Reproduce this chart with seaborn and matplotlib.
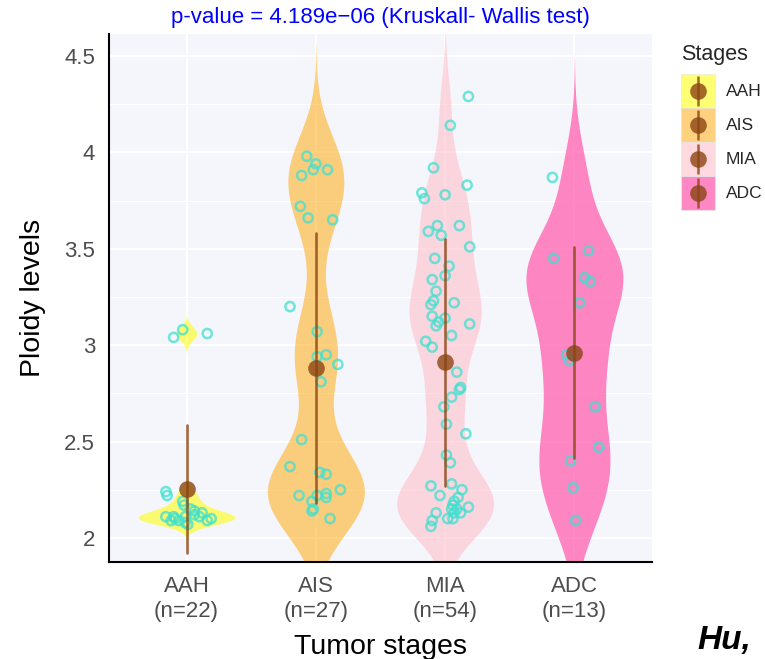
import numpy as np
import pandas as pd
import matplotlib
matplotlib.use("Agg")
import matplotlib.pyplot as plt
from matplotlib.patches import Patch
from matplotlib.lines import Line2D
from matplotlib.legend_handler import HandlerTuple, HandlerLine2D
from matplotlib.ticker import MultipleLocator
import seaborn as sns

# ---------------- data ----------------
stages = ["AAH", "AIS", "MIA", "ADC"]

aah_ploidy = [3.04, 3.08, 3.06,
              2.24, 2.22, 2.19, 2.17, 2.14, 2.13, 2.11, 2.11, 2.10, 2.09,
              2.11, 2.08, 2.07, 2.11, 2.09, 2.10, 2.09, 2.15, 2.12]
aah_jitter = [-0.10, -0.03, 0.16,
              -0.16, -0.15, -0.03, -0.02, 0.06, 0.12, -0.16, -0.10, -0.09, -0.12,
              -0.01, -0.01, 0.01, 0.10, 0.16, 0.19, -0.06, 0.03, 0.06]

ais_ploidy = [3.98, 3.94, 3.91, 3.91, 3.88, 3.72, 3.66, 3.65, 3.20, 3.07,
              2.95, 2.94, 2.90, 2.81, 2.51, 2.37, 2.34, 2.33, 2.25, 2.22,
              2.22, 2.23, 2.21, 2.19, 2.15, 2.14, 2.10]
ais_jitter = [-0.07, 0.00, -0.02, 0.09, -0.11, -0.12, -0.06, 0.13, -0.20, 0.01,
              0.08, 0.01, 0.17, 0.04, -0.11, -0.20, 0.03, 0.08, 0.19, -0.13,
              0.01, 0.08, 0.08, -0.03, -0.02, -0.03, 0.11]

mia_ploidy = [4.29, 4.14, 3.92, 3.83, 3.79, 3.76, 3.78, 3.59, 3.62, 3.57,
              3.62, 3.51, 3.45, 3.41, 3.36, 3.34, 3.28, 3.23, 3.21, 3.22,
              3.15, 3.14, 3.12, 3.10, 3.11, 3.05, 3.02, 2.99, 2.86, 2.78,
              2.77, 2.73, 2.68, 2.59, 2.54, 2.43, 2.39,
              2.27, 2.28, 2.25, 2.22, 2.21, 2.19, 2.17, 2.15, 2.16, 2.13,
              2.13, 2.13, 2.10, 2.10, 2.09, 2.06, 2.15]
mia_jitter = [0.18, 0.04, -0.09, 0.17, -0.18, -0.16, 0.00, -0.13, -0.06, -0.03,
              0.11, 0.19, -0.08, 0.03, 0.00, -0.10, -0.07, -0.09, -0.11, 0.07,
              -0.10, 0.00, -0.05, -0.07, 0.19, 0.05, -0.15, -0.10, 0.09, 0.12,
              0.11, 0.05, -0.01, 0.01, 0.16, 0.01, 0.04,
              -0.11, 0.05, 0.13, -0.04, 0.10, 0.07, 0.06, 0.05, 0.18, 0.12,
              0.07, -0.07, 0.02, 0.06, -0.10, -0.11, 0.09]

adc_ploidy = [3.87, 3.49, 3.45, 3.35, 3.33, 3.22, 2.95, 2.92, 2.68, 2.47,
              2.40, 2.26, 2.09]
adc_jitter = [-0.17, 0.11, -0.16, 0.08, 0.12, 0.04, -0.06, -0.04, 0.16, 0.19,
              -0.03, -0.01, 0.01]

y_ticks = [2, 2.5, 3, 3.5, 4, 4.5]
y_tick_labels = ["2", "2.5", "3", "3.5", "4", "4.5"]
title_text = "p-value = 4.189e\u221206 (Kruskall- Wallis test)"

# ---------------- styling ----------------
fill_colors = {"AAH": "#FFFF00", "AIS": "#FFA500", "MIA": "#FFC0CB", "ADC": "#FF69B4"}
fill_alpha = {"AAH": 0.55, "AIS": 0.5, "MIA": 0.6, "ADC": 0.8}
bw_scale = {"AAH": 1.0, "AIS": 0.6, "MIA": 0.6, "ADC": 0.7}
point_edge = "#40E0D0"
mean_color = "#8B4513"
panel_bg = "#F5F6FC"
font = "Liberation Sans"

values_by_stage = {"AAH": aah_ploidy, "AIS": ais_ploidy, "MIA": mia_ploidy, "ADC": adc_ploidy}
jitter_by_stage = {"AAH": aah_jitter, "AIS": ais_jitter, "MIA": mia_jitter, "ADC": adc_jitter}

df = pd.concat([pd.DataFrame({"stage": s, "ploidy": values_by_stage[s],
                              "jit": jitter_by_stage[s]}) for s in stages],
               ignore_index=True)
df["xpos"] = df["stage"].map({s: i for i, s in enumerate(stages)}) + df["jit"]

sns.set_style("white")
plt.rcParams["font.family"] = [font, "DejaVu Sans"]

W, H = 765, 659
fig = plt.figure(figsize=(W / 100, H / 100), dpi=100)
L, R, T, B = 109, 652, 34, 562
ax = fig.add_axes([L / W, 1 - B / H, (R - L) / W, (B - T) / H])
ax.set_facecolor(panel_bg)

# violins, one per stage so each gets an R-like (nrd0) bandwidth
for s in stages:
    sub = df[df["stage"] == s]
    v = np.asarray(sub["ploidy"])
    sd = v.std(ddof=1)
    iqr = np.subtract(*np.percentile(v, [75, 25]))
    adj = bw_scale[s] * 0.9 * min(sd, iqr / 1.34) / sd
    sns.violinplot(data=sub, x="stage", y="ploidy", order=stages, ax=ax,
                   color=fill_colors[s], saturation=1, alpha=fill_alpha[s],
                   inner=None, cut=3, bw_method="scott", bw_adjust=adj,
                   density_norm="width", width=0.75, linewidth=0, gridsize=400)

# jittered hollow points
sns.scatterplot(data=df, x="xpos", y="ploidy", ax=ax, s=44, facecolor="none",
                edgecolor=point_edge, linewidth=1.8, alpha=0.75, zorder=4,
                legend=False)

# mean +/- sd
sns.pointplot(data=df, x="stage", y="ploidy", order=stages, ax=ax,
              errorbar="sd", linestyle="none", color=mean_color,
              markersize=12, markeredgewidth=0, alpha=0.8,
              err_kws={"linewidth": 1.9, "alpha": 0.8, "zorder": 5}, zorder=6)

ax.set_xlim(-0.6, 3.6)
ax.set_ylim(1.875, 4.614)
ax.set_yticks(y_ticks)
ax.set_yticklabels(y_tick_labels)
ax.yaxis.set_minor_locator(MultipleLocator(0.25))
ax.set_xticks(range(len(stages)))
counts = [len(values_by_stage[s]) for s in stages]
ax.set_xticklabels([f"{s}\n(n={n})" for s, n in zip(stages, counts)],
                   linespacing=1.25)

ax.set_axisbelow(True)
ax.grid(True, which="major", color="white", linewidth=1.5)
ax.grid(True, which="minor", axis="y", color="white", linewidth=0.8)

for side in ["top", "right"]:
    ax.spines[side].set_visible(False)
for side in ["left", "bottom"]:
    ax.spines[side].set_color("black")
    ax.spines[side].set_linewidth(1.5)

ax.tick_params(axis="both", which="major", length=7, width=2.2, color="#333333",
               labelsize=16, labelcolor="#4D4D4D", pad=3)
ax.tick_params(axis="y", which="minor", length=0)

ax.set_xlabel("Tumor stages", fontsize=20.5, color="black", labelpad=9)
ax.set_ylabel("Ploidy levels", fontsize=20.5, color="black", labelpad=13)

fig.text((L + R) / 2 / W, 1 - 17 / H, title_text, ha="center", va="center",
         color="#0000FF", fontsize=16)


# legend: markers centred in the key box
class CenteredLine(HandlerLine2D):
    def create_artists(self, legend, orig_handle, xdescent, ydescent, width,
                       height, fontsize, trans):
        return super().create_artists(legend, orig_handle, xdescent, ydescent,
                                      width, height - ydescent, fontsize, trans)


handles = []
for s in stages:
    patch = Patch(facecolor=fill_colors[s], alpha=fill_alpha[s],
                  edgecolor="#E6E6E6", linewidth=0.8)
    vline = Line2D([], [], marker="|", markersize=21, markeredgewidth=1.8,
                   color=mean_color, alpha=0.8, linestyle="none")
    dot = Line2D([], [], marker="o", markersize=12, markeredgewidth=0,
                 color=mean_color, alpha=0.8, linestyle="none")
    handles.append((patch, vline, dot))
leg = fig.legend(handles, stages,
                 handler_map={tuple: HandlerTuple(ndivide=1, pad=0),
                              Line2D: CenteredLine()},
                 loc="upper left", bbox_to_anchor=(678 / W, 1 - 41 / H),
                 frameon=False, title="Stages", fontsize=12.5, title_fontsize=15.5,
                 handlelength=1.95, handleheight=2.63, labelspacing=0.0,
                 handletextpad=0.6, borderaxespad=0, borderpad=0.2)
leg._legend_box.align = "left"
leg._legend_box.sep = 6

fig.text(697 / W, 1 - 640 / H, "Hu,", fontsize=24, fontweight="bold",
         fontstyle="italic", color="black", ha="left", va="center")

fig.savefig("out.png", dpi=100, facecolor="white")
